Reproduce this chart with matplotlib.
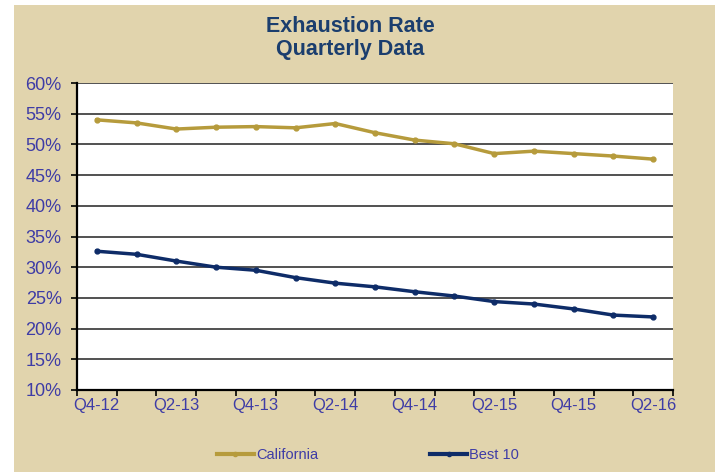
import numpy as np
import matplotlib.pyplot as plt
from matplotlib.patches import Rectangle
from matplotlib.lines import Line2D

quarters = ['Q4-12', 'Q1-13', 'Q2-13', 'Q3-13', 'Q4-13', 'Q1-14', 'Q2-14', 'Q3-14',
            'Q4-14', 'Q1-15', 'Q2-15', 'Q3-15', 'Q4-15', 'Q1-16', 'Q2-16']
california = [54.0, 53.5, 52.5, 52.8, 52.9, 52.7, 53.4, 51.9,
              50.7, 50.1, 48.5, 48.9, 48.5, 48.1, 47.6]
best10 = [32.6, 32.1, 31.0, 30.0, 29.5, 28.3, 27.4, 26.8,
          26.0, 25.3, 24.4, 24.0, 23.2, 22.2, 21.9]
yticks = [10, 15, 20, 25, 30, 35, 40, 45, 50, 55, 60]

tan = '#E1D4AD'
gold = '#B69B3C'
navy = '#0E2C68'
label_blue = '#3E3CA6'
title_blue = '#1B3E6E'

plt.rcParams['font.family'] = ['Liberation Sans', 'DejaVu Sans']

W, H = 715, 472
fig = plt.figure(figsize=(W / 100, H / 100), dpi=100, facecolor='white')
fig.patches.append(Rectangle((14 / W, 0), 1 - 14 / W, 1 - 5 / H,
                             transform=fig.transFigure, facecolor=tan,
                             edgecolor='none', zorder=-5))

ax = fig.add_axes([77 / W, 1 - 390 / H, (673 - 77) / W, (390 - 83) / H])
ax.set_facecolor('white')

x = np.arange(len(quarters))
ax.plot(x, california, color=gold, lw=2.5, marker='o', ms=3.5, zorder=3)
ax.plot(x, best10, color=navy, lw=2.5, marker='o', ms=3.5, zorder=3)

ax.set_xlim(-0.5, len(quarters) - 0.5)
ax.set_ylim(10, 60)
ax.set_yticks(yticks)
ax.set_yticklabels([f'{v}%' for v in yticks])
for v in yticks[1:]:
    ax.axhline(v, color='#222222', lw=1.1, zorder=1)

ax.set_xticks(x[::2])
ax.set_xticklabels(quarters[::2])
ax.set_xticks(np.arange(-0.5, len(quarters)), minor=True)
ax.tick_params(axis='x', which='major', length=0, pad=6, labelsize=12)
ax.tick_params(axis='x', which='minor', length=4, width=1.2, color='black', direction='out')
ax.tick_params(axis='y', length=4, width=1.2, color='black', direction='out', pad=7,
               labelsize=13)
ax.tick_params(axis='both', which='major', labelcolor=label_blue)

for s in ['top', 'right']:
    ax.spines[s].set_visible(False)
for s in ['left', 'bottom']:
    ax.spines[s].set_color('black')
    ax.spines[s].set_linewidth(1.6)

fig.text(350 / W, 1 - 27 / H, 'Exhaustion Rate', ha='center', va='center',
         fontsize=15.5, fontweight='bold', color=title_blue)
fig.text(350 / W, 1 - 49 / H, 'Quarterly Data', ha='center', va='center',
         fontsize=15.5, fontweight='bold', color=title_blue)

handles = [Line2D([], [], color=gold, lw=3, marker='o', ms=3),
           Line2D([], [], color=navy, lw=3, marker='o', ms=3)]
fig.legend(handles, ['California', 'Best 10'], loc='center',
           bbox_to_anchor=(368 / W, 1 - 455 / H), ncol=2, frameon=False,
           fontsize=10.5, labelcolor=label_blue, handlelength=2.5,
           handletextpad=0.15, columnspacing=7.7)

fig.savefig('out.png', dpi=100, facecolor='white')
